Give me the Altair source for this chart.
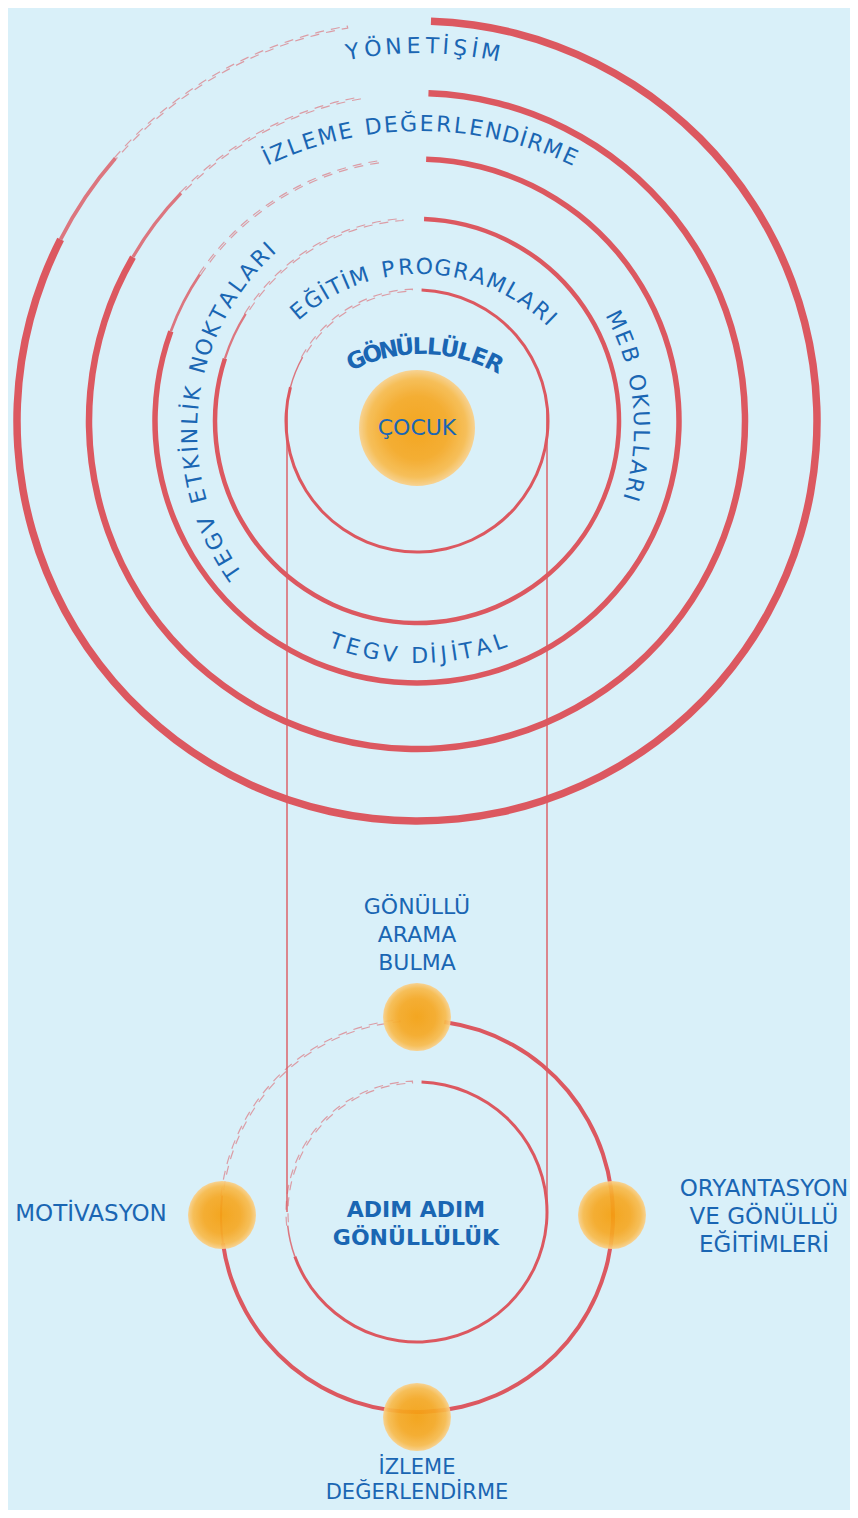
import math
import altair as alt
import pandas as pd

W, H, M = 842, 1502, 8
BG = "#d9f0f9"
RED = "#dc5860"
BLUE = "#1a66b3"
FONT = "DejaVu Sans"

# ---------------- upper concentric rings (image px) ----------------
up_cx, up_cy = 417, 421
ring_r = [131, 202, 262, 328, 400]
ring_w = [3.0, 4.5, 5.5, 6.5, 7.5]
ring_solid_start = [2, 2, 2, 2, 2]
ring_solid_end = [285, 288, 290, 300, 297]
ring_faint_end = [358, 356, 352, 350, 350]

# ---------------- lower rings ----------------
low_cx = [417, 417]
low_cy = [1216, 1212]
low_r = [196, 130]
low_w = [4.0, 3.0]
low_solid_start = [8, 2]
low_solid_end = [262, 250]
low_faint_end = [355, 358]

# ---------------- connecting vertical lines ----------------
vline_x = [287, 547]
vline_y0 = [408, 408]
vline_y1 = [1212, 1212]

# ---------------- orange balls ----------------
ball_x = [417, 417, 222, 612, 417]
ball_y = [428, 1017, 1215, 1215, 1417]
ball_r = [58, 34, 34, 34, 34]

# ---------------- curved labels ----------------
curved_text = ["YÖNETİŞİM", "İZLEME DEĞERLENDİRME", "EĞİTİM PROGRAMLARI", "GÖNÜLLÜLER",
               "TEGV ETKİNLİK NOKTALARI", "MEB OKULLARI", "TEGV DİJİTAL"]
curved_cx = [420, 420, 420, 422, 440, 398, 418]
curved_cy = [416, 484, 455, 509, 432, 428, 409]
curved_r = [370, 360, 188, 162, 250, 243, 247]
curved_a0 = [-10.5, -25.1, -40.1, -23.8, 235.9, 63.7, 199.3]
curved_a1 = [11.0, 24.6, 43.9, 26.4, 317.1, 106.6, 160.7]
curved_mode = ["out", "out", "out", "out", "out", "out", "in"]
curved_fs = [22, 22, 22, 23, 22, 22, 22]
curved_bold = [False, False, False, True, False, False, False]

# ---------------- straight labels ----------------
plain_text = ["ÇOCUK", "GÖNÜLLÜ", "ARAMA", "BULMA", "MOTİVASYON",
              "ORYANTASYON", "VE GÖNÜLLÜ", "EĞİTİMLERİ", "İZLEME", "DEĞERLENDİRME"]
plain_x = [417, 417, 417, 417, 91, 764, 764, 764, 417, 417]
plain_y = [428, 907, 935, 963, 1214, 1189, 1217, 1245, 1468, 1493]
plain_fs = [22, 22, 22, 22, 23, 23, 23, 23, 21, 21]

bold_text = ["ADIM ADIM", "GÖNÜLLÜLÜK"]
bold_x = [416, 416]
bold_y = [1210, 1238]
bold_fs = [22, 22]

# ================= build tables =================
arc_rows = []
faint_rows = []


def add_ring(cx, cy, r, w, s0, s1, f1):
    arc_rows.append(dict(cx=cx, cy=cy, ro=r + w / 2, ri=r - w / 2,
                         t0=math.radians(s0), t1=math.radians(s1), op=1.0))
    arc_rows.append(dict(cx=cx, cy=cy, ro=r + w / 4, ri=r - w / 4,
                         t0=math.radians(s1), t1=math.radians(s1 + 14), op=0.8))
    faint_rows.append(dict(cx=cx, cy=cy, ro=r + 1.0, ri=r - 1.0,
                           t0=math.radians(s1 + 14), t1=math.radians(f1), op=0.55))


for i in range(len(ring_r)):
    add_ring(up_cx, up_cy, ring_r[i], ring_w[i], ring_solid_start[i], ring_solid_end[i], ring_faint_end[i])
for i in range(len(low_r)):
    add_ring(low_cx[i], low_cy[i], low_r[i], low_w[i], low_solid_start[i], low_solid_end[i], low_faint_end[i])

arc_df = pd.DataFrame(arc_rows)
faint_df = pd.DataFrame(faint_rows)

line_df = pd.DataFrame(dict(x=vline_x, y=vline_y0, y2=vline_y1))
# Vega symbol size is the area of the bounding square: (2r)^2
ball_df = pd.DataFrame(dict(x=ball_x, y=ball_y, s=[4 * r * r for r in ball_r]))


def cw(c):
    if c in "Iİ":
        return 0.45
    if c == "J":
        return 0.7
    if c == " ":
        return 0.6
    if c in "MW":
        return 1.15
    if c in "LT":
        return 0.88
    if c in "OÖGĞÇCD":
        return 1.05
    return 1.0


char_rows = []
for k, txt in enumerate(curved_text):
    ws = [cw(c) for c in txt]
    cum, s = [], 0.0
    for wv in ws:
        cum.append(s + wv / 2)
        s += wv
    span = cum[-1] - cum[0]
    for c, p in zip(txt, cum):
        if c == " ":
            continue
        f = (p - cum[0]) / span
        th = curved_a0[k] + (curved_a1[k] - curved_a0[k]) * f
        x = curved_cx[k] + curved_r[k] * math.sin(math.radians(th))
        y = curved_cy[k] - curved_r[k] * math.cos(math.radians(th))
        ang = th if curved_mode[k] == "out" else th - 180
        char_rows.append(dict(x=x, y=y, ch=c, ang=ang % 360, fs=curved_fs[k], bold=curved_bold[k]))
char_df = pd.DataFrame(char_rows)

plain_df = pd.DataFrame(dict(x=plain_x, y=plain_y, t=plain_text, fs=plain_fs))
bold_df = pd.DataFrame(dict(x=bold_x, y=bold_y, t=bold_text, fs=bold_fs))

# ================= chart =================
xs = alt.Scale(domain=[M, M + W], range=[0, W])
ys = alt.Scale(domain=[M, M + H], range=[0, H])


def X(f):
    return alt.X(f, type="quantitative", scale=xs, axis=None)


def Y(f):
    return alt.Y(f, type="quantitative", scale=ys, axis=None)


lines = alt.Chart(line_df).mark_rule(color=RED, strokeWidth=2, opacity=0.7).encode(
    x=X("x"), y=Y("y"), y2="y2")

rings = alt.Chart(arc_df).mark_arc(color=RED).encode(
    x=X("cx"), y=Y("cy"),
    radius=alt.Radius("ro:Q", scale=None), radius2="ri:Q",
    theta=alt.Theta("t0:Q", scale=None), theta2="t1:Q",
    opacity=alt.Opacity("op:Q", scale=None))

faint = alt.Chart(faint_df).mark_arc(filled=False, stroke=RED, strokeWidth=1.2,
                                     strokeDash=[9, 7]).encode(
    x=X("cx"), y=Y("cy"),
    radius=alt.Radius("ro:Q", scale=None), radius2="ri:Q",
    theta=alt.Theta("t0:Q", scale=None), theta2="t1:Q",
    opacity=alt.Opacity("op:Q", scale=None))

grad = alt.RadialGradient(
    gradient="radial",
    stops=[alt.GradientStop(offset=0, color="#f5a00e"),
           alt.GradientStop(offset=0.55, color="#f6a823"),
           alt.GradientStop(offset=0.85, color="#f8bb4c"),
           alt.GradientStop(offset=1, color="#fad08a")])

balls = alt.Chart(ball_df).mark_circle(color=grad, opacity=0.92).encode(
    x=X("x"), y=Y("y"), size=alt.Size("s:Q", scale=None))

chars_n = alt.Chart(char_df[~char_df["bold"]]).mark_text(
    font=FONT, color=BLUE, align="center", baseline="middle").encode(
    x=X("x"), y=Y("y"), text="ch:N", angle=alt.Angle("ang:Q", scale=None),
    size=alt.Size("fs:Q", scale=None))

chars_b = alt.Chart(char_df[char_df["bold"]]).mark_text(
    font=FONT, fontWeight="bold", color=BLUE, align="center", baseline="middle").encode(
    x=X("x"), y=Y("y"), text="ch:N", angle=alt.Angle("ang:Q", scale=None),
    size=alt.Size("fs:Q", scale=None))

plain = alt.Chart(plain_df).mark_text(
    font=FONT, color=BLUE, align="center", baseline="middle").encode(
    x=X("x"), y=Y("y"), text="t:N", size=alt.Size("fs:Q", scale=None))

boldt = alt.Chart(bold_df).mark_text(
    font=FONT, fontWeight="bold", color=BLUE, align="center", baseline="middle").encode(
    x=X("x"), y=Y("y"), text="t:N", size=alt.Size("fs:Q", scale=None))

chart = alt.layer(lines, faint, rings, balls, chars_n, chars_b, plain, boldt).properties(
    width=W, height=H, padding=0, autosize="none", background=BG
).configure_view(stroke=None)

chart.save("out.html", embed_options={"renderer": "svg", "actions": False})
